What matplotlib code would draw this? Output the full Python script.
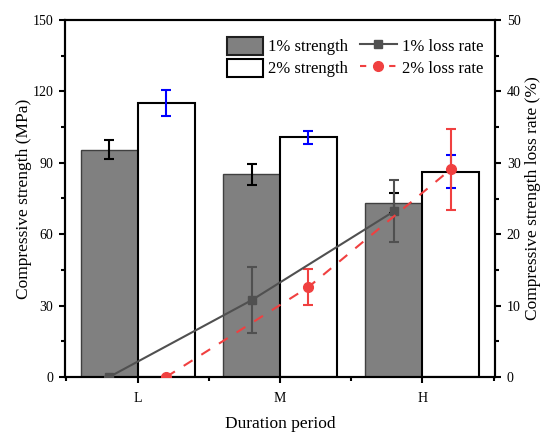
import matplotlib
matplotlib.use("Agg")
import matplotlib.pyplot as plt
import numpy as np
from matplotlib.ticker import MultipleLocator
from matplotlib.patches import Patch
from matplotlib.lines import Line2D

plt.rcParams['font.family'] = ['Liberation Serif', 'DejaVu Serif']
plt.rcParams['mathtext.fontset'] = 'stix'

categories = ['L', 'M', 'H']
strength_1 = [95.4, 85.2, 73.1]
strength_1_err = [4.0, 4.4, 4.3]
strength_2 = [115.0, 100.7, 86.3]
strength_2_err = [5.5, 2.7, 6.9]
loss_1 = [0.0, 10.75, 23.2]
loss_1_err = [0.0, 4.6, 4.35]
loss_2 = [0.0, 12.6, 29.1]
loss_2_err = [0.0, 2.5, 5.7]

fig = plt.figure(figsize=(5.4, 4.33), dpi=100)
ax = fig.add_axes([65/540, 1-377/433, 430/540, 357/433])
x = np.arange(len(categories))
w = 0.4
ax.bar(x - w/2, strength_1, w, color='#808080', edgecolor='#404040', linewidth=1.0, zorder=2)
ax.bar(x + w/2, strength_2, w, color='white', edgecolor='black', linewidth=1.5, zorder=2)
ax.errorbar(x - w/2, strength_1, yerr=strength_1_err, fmt='none', ecolor='black',
            elinewidth=1.5, capsize=3.5, capthick=1.5, zorder=3)
ax.errorbar(x + w/2, strength_2, yerr=strength_2_err, fmt='none', ecolor='#0000ff',
            elinewidth=1.5, capsize=3.5, capthick=1.5, zorder=3)

ax.set_xlim(-0.51, 2.51)
ax.set_ylim(0, 150)
ax.set_xticks(x)
ax.set_xticklabels(categories)
ax.set_xticks([-0.5, 0.5, 1.5, 2.5], minor=True)
ax.yaxis.set_major_locator(MultipleLocator(30))
ax.yaxis.set_minor_locator(MultipleLocator(15))
ax.tick_params(axis='both', which='major', direction='out', length=4.5, width=1.5, labelsize=10, pad=4)
ax.tick_params(axis='x', which='major', pad=6)
ax.tick_params(axis='both', which='minor', direction='out', length=3, width=1.5)
for s in ax.spines.values():
    s.set_linewidth(1.5)
ax.set_xlabel('Duration period', fontsize=12.5, labelpad=8)
ax.set_ylabel('Compressive strength (MPa)', fontsize=12.5)
ax.yaxis.set_label_coords(-0.077, 0.5)

ax2 = ax.twinx()
ax2.set_ylim(0, 50)
ax2.yaxis.set_major_locator(MultipleLocator(10))
ax2.yaxis.set_minor_locator(MultipleLocator(5))
ax2.tick_params(axis='y', which='major', direction='out', length=4.5, width=1.5, labelsize=10, pad=4)
ax2.tick_params(axis='y', which='minor', direction='out', length=3, width=1.5)
for s in ax2.spines.values():
    s.set_linewidth(1.5)
ax2.set_ylabel('Compressive strength loss rate (%)', fontsize=12.5)
ax2.yaxis.set_label_coords(1.069, 0.5)

ax2.errorbar(x - w/2, loss_1, yerr=loss_1_err, color='#505050', marker='s', markersize=6,
             linewidth=1.5, elinewidth=1.5, capsize=3.5, capthick=1.5, zorder=4)
ax2.errorbar(x + w/2, loss_2, yerr=loss_2_err, color='#f04040', marker='o', markersize=7,
             linestyle=(0, (5, 5)), linewidth=1.5, elinewidth=1.5, capsize=3.5, capthick=1.5, zorder=4)

handles = [Patch(facecolor='#808080', edgecolor='#202020', linewidth=1.5),
           Patch(facecolor='white', edgecolor='black', linewidth=1.5),
           Line2D([], [], color='#505050', marker='s', markersize=6, linewidth=1.5),
           Line2D([], [], color='#f04040', marker='o', markersize=7, linewidth=1.5, linestyle=(0, (3, 4)))]
labels = ['1% strength', '2% strength', '1% loss rate', '2% loss rate']
ax2.legend(handles, labels, ncol=2, frameon=False, fontsize=12, loc='upper right',
           bbox_to_anchor=(490/540, 1-30/433), bbox_transform=fig.transFigure,
           borderaxespad=0, borderpad=0.4, handlelength=2.2, handleheight=1.3,
           columnspacing=0.7, handletextpad=0.3, labelspacing=0.2, numpoints=1)

fig.savefig('out.png', dpi=100)
